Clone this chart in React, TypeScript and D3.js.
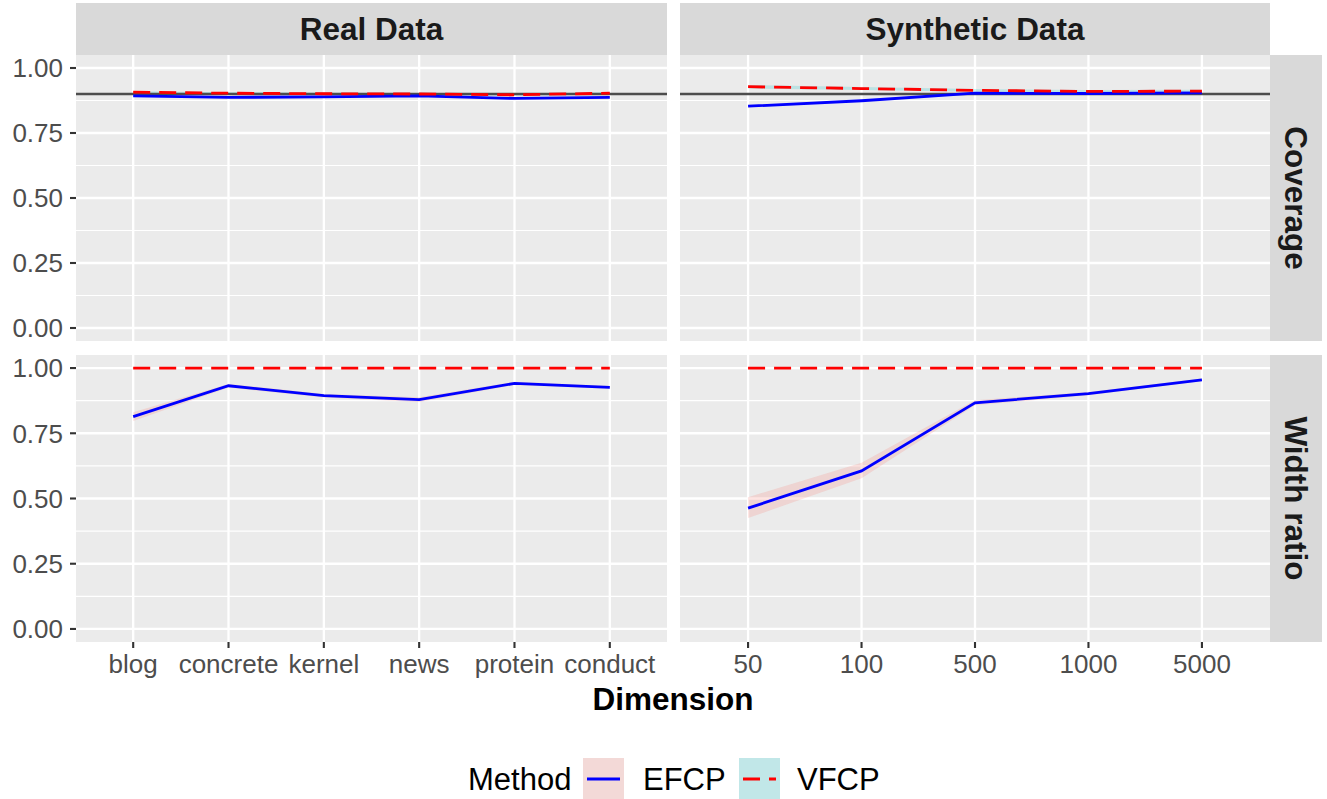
import React from "react";
import * as d3 from "d3";

const realCats = ["blog", "concrete", "kernel", "news", "protein", "conduct"];
const synthCats = ["50", "100", "500", "1000", "5000"];
const yTicks = [0, 0.25, 0.5, 0.75, 1];
const yMinor = [0.125, 0.375, 0.625, 0.875];
const yTickLabels = ["0.00", "0.25", "0.50", "0.75", "1.00"];
const targetCoverage = 0.9;

// Coverage, real data
const covRealEfcp = [0.893, 0.887, 0.889, 0.893, 0.883, 0.887];
const covRealEfcpLo = [0.889, 0.884, 0.886, 0.890, 0.880, 0.884];
const covRealEfcpHi = [0.897, 0.890, 0.892, 0.896, 0.886, 0.890];
const covRealVfcp = [0.907, 0.903, 0.901, 0.900, 0.897, 0.903];
const covRealVfcpLo = [0.903, 0.899, 0.897, 0.896, 0.893, 0.899];
const covRealVfcpHi = [0.911, 0.907, 0.905, 0.904, 0.901, 0.907];
// Coverage, synthetic data
const covSynEfcp = [0.853, 0.874, 0.903, 0.902, 0.904];
const covSynEfcpLo = [0.849, 0.870, 0.900, 0.899, 0.901];
const covSynEfcpHi = [0.857, 0.878, 0.906, 0.905, 0.907];
const covSynVfcp = [0.928, 0.921, 0.914, 0.910, 0.911];
const covSynVfcpLo = [0.921, 0.915, 0.909, 0.905, 0.906];
const covSynVfcpHi = [0.935, 0.927, 0.919, 0.915, 0.916];
// Width ratio, real data
const widRealEfcp = [0.814, 0.932, 0.894, 0.879, 0.941, 0.926];
const widRealEfcpLo = [0.797, 0.925, 0.887, 0.870, 0.935, 0.921];
const widRealEfcpHi = [0.831, 0.939, 0.901, 0.888, 0.947, 0.931];
const widRealVfcp = [1, 1, 1, 1, 1, 1];
// Width ratio, synthetic data
const widSynEfcp = [0.463, 0.606, 0.867, 0.902, 0.955];
const widSynEfcpLo = [0.425, 0.578, 0.857, 0.896, 0.950];
const widSynEfcpHi = [0.505, 0.637, 0.877, 0.908, 0.960];
const widSynVfcp = [1, 1, 1, 1, 1];

const colTitles = ["Real Data", "Synthetic Data"];
const rowTitles = ["Coverage", "Width ratio"];
const methods = ["EFCP", "VFCP"];

const W = 1327;
const H = 799;
const colX: [number, number][] = [
  [76, 667],
  [680, 1270],
];
const rowY: [number, number][] = [
  [55, 341],
  [355, 642],
];
const stripTop = 3;
const stripRight = 1322;

const FONT = "'Liberation Sans', Arial, Helvetica, sans-serif";
const EFCP_COL = "#0000FF";
const VFCP_COL = "#FF0000";
const EFCP_FILL = "#F8766D";
const VFCP_FILL = "#00BFC4";

type Series = { cats: string[]; y: number[]; lo: number[]; hi: number[] };

function Panel({
  col,
  row,
  efcp,
  vfcp,
  showHline,
}: {
  col: number;
  row: number;
  efcp: Series;
  vfcp: Series;
  showHline: boolean;
}) {
  const [x0, x1] = colX[col];
  const [y0, y1] = rowY[row];
  const cats = efcp.cats;
  const x = d3.scalePoint<string>().domain(cats).range([x0, x1]).padding(0.6);
  const y = d3.scaleLinear().domain([-0.05, 1.05]).range([y1, y0]);
  const line = d3
    .line<number>()
    .x((_, i) => x(cats[i]) as number)
    .y((v) => y(v));
  const area = (lo: number[], hi: number[]) =>
    d3
      .area<number>()
      .x((_, i) => x(cats[i]) as number)
      .y0((_, i) => y(lo[i]))
      .y1((_, i) => y(hi[i]))(lo) as string;
  return (
    <g>
      <rect x={x0} y={y0} width={x1 - x0} height={y1 - y0} fill="#EBEBEB" />
      {yMinor.map((t) => (
        <line key={"m" + t} x1={x0} x2={x1} y1={y(t)} y2={y(t)} stroke="#FFFFFF" strokeWidth={1.2} />
      ))}
      {yTicks.map((t) => (
        <line key={"M" + t} x1={x0} x2={x1} y1={y(t)} y2={y(t)} stroke="#FFFFFF" strokeWidth={2.3} />
      ))}
      {cats.map((c) => (
        <line key={c} x1={x(c)} x2={x(c)} y1={y0} y2={y1} stroke="#FFFFFF" strokeWidth={2.3} />
      ))}
      <path d={area(efcp.lo, efcp.hi)} fill={EFCP_FILL} fillOpacity={0.2} />
      <path d={area(vfcp.lo, vfcp.hi)} fill={VFCP_FILL} fillOpacity={0.2} />
      {showHline && (
        <line
          x1={x0}
          x2={x1}
          y1={y(targetCoverage)}
          y2={y(targetCoverage)}
          stroke="#4D4D4D"
          strokeWidth={2.4}
        />
      )}
      <path d={line(efcp.y) as string} fill="none" stroke={EFCP_COL} strokeWidth={2.8} />
      <path
        d={line(vfcp.y) as string}
        fill="none"
        stroke={VFCP_COL}
        strokeWidth={2.8}
        strokeDasharray="17 9"
      />
      {col === 0 &&
        yTicks.map((t, i) => (
          <g key={"yt" + t}>
            <line x1={x0 - 6} x2={x0} y1={y(t)} y2={y(t)} stroke="#333333" strokeWidth={2.1} />
            <text
              x={x0 - 13}
              y={y(t)}
              dy="0.36em"
              textAnchor="end"
              fontSize={26}
              fill="#4D4D4D"
              fontFamily={FONT}
            >
              {yTickLabels[i]}
            </text>
          </g>
        ))}
      {row === 1 &&
        cats.map((c) => (
          <g key={"xt" + c}>
            <line x1={x(c)} x2={x(c)} y1={y1} y2={y1 + 6} stroke="#333333" strokeWidth={2.1} />
            <text
              x={x(c)}
              y={673}
              textAnchor="middle"
              fontSize={26}
              fill="#4D4D4D"
              fontFamily={FONT}
            >
              {c}
            </text>
          </g>
        ))}
    </g>
  );
}

export default function App() {
  const mk = (cats: string[], y: number[], lo: number[], hi: number[]): Series => ({ cats, y, lo, hi });
  const panels = [
    { col: 0, row: 0, efcp: mk(realCats, covRealEfcp, covRealEfcpLo, covRealEfcpHi), vfcp: mk(realCats, covRealVfcp, covRealVfcpLo, covRealVfcpHi) },
    { col: 1, row: 0, efcp: mk(synthCats, covSynEfcp, covSynEfcpLo, covSynEfcpHi), vfcp: mk(synthCats, covSynVfcp, covSynVfcpLo, covSynVfcpHi) },
    { col: 0, row: 1, efcp: mk(realCats, widRealEfcp, widRealEfcpLo, widRealEfcpHi), vfcp: mk(realCats, widRealVfcp, widRealVfcp, widRealVfcp) },
    { col: 1, row: 1, efcp: mk(synthCats, widSynEfcp, widSynEfcpLo, widSynEfcpHi), vfcp: mk(synthCats, widSynVfcp, widSynVfcp, widSynVfcp) },
  ];
  return (
    <svg
      width={W}
      height={H}
      style={{ position: "absolute", left: 0, top: 0, background: "#FFFFFF" }}
      fontFamily={FONT}
    >
      <rect x={0} y={0} width={W} height={H} fill="#FFFFFF" />
      {/* column strips */}
      {colX.map(([a, b], i) => (
        <g key={"cs" + i}>
          <rect x={a} y={stripTop} width={b - a} height={rowY[0][0] - stripTop} fill="#D9D9D9" />
          <text
            x={(a + b) / 2}
            y={(stripTop + rowY[0][0]) / 2}
            dy="0.36em"
            textAnchor="middle"
            fontSize={31.5}
            fontWeight="bold"
            fill="#1A1A1A"
          >
            {colTitles[i]}
          </text>
        </g>
      ))}
      {/* row strips */}
      {rowY.map(([a, b], i) => (
        <g key={"rs" + i}>
          <rect x={colX[1][1]} y={a} width={stripRight - colX[1][1]} height={b - a} fill="#D9D9D9" />
          <text
            transform={`translate(${(colX[1][1] + stripRight) / 2},${(a + b) / 2}) rotate(90)`}
            dy="0.36em"
            textAnchor="middle"
            fontSize={31.5}
            fontWeight="bold"
            fill="#1A1A1A"
          >
            {rowTitles[i]}
          </text>
        </g>
      ))}
      {panels.map((p, i) => (
        <Panel key={i} col={p.col} row={p.row} efcp={p.efcp} vfcp={p.vfcp} showHline={p.row === 0} />
      ))}
      {/* x axis title */}
      <text x={(colX[0][0] + colX[1][1]) / 2} y={710} textAnchor="middle" fontSize={31.5} fontWeight="bold" fill="#000000">
        Dimension
      </text>
      {/* legend */}
      <g>
        <text x={468} y={790} fontSize={31} fill="#000000">
          Method
        </text>
        {methods.map((m, i) => {
          const kx = i === 0 ? 583 : 739;
          const lx = i === 0 ? 643 : 797;
          return (
            <g key={m}>
              <rect x={kx} y={758} width={41} height={41} fill="#F2F2F2" />
              <rect x={kx} y={758} width={41} height={41} fill={i === 0 ? EFCP_FILL : VFCP_FILL} fillOpacity={0.2} />
              <line
                x1={kx + 4}
                x2={kx + 37}
                y1={779}
                y2={779}
                stroke={i === 0 ? EFCP_COL : VFCP_COL}
                strokeWidth={2.8}
                strokeDasharray={i === 0 ? undefined : "17 9"}
              />
              <text x={lx} y={790} fontSize={31} fill="#000000">
                {m}
              </text>
            </g>
          );
        })}
      </g>
    </svg>
  );
}
